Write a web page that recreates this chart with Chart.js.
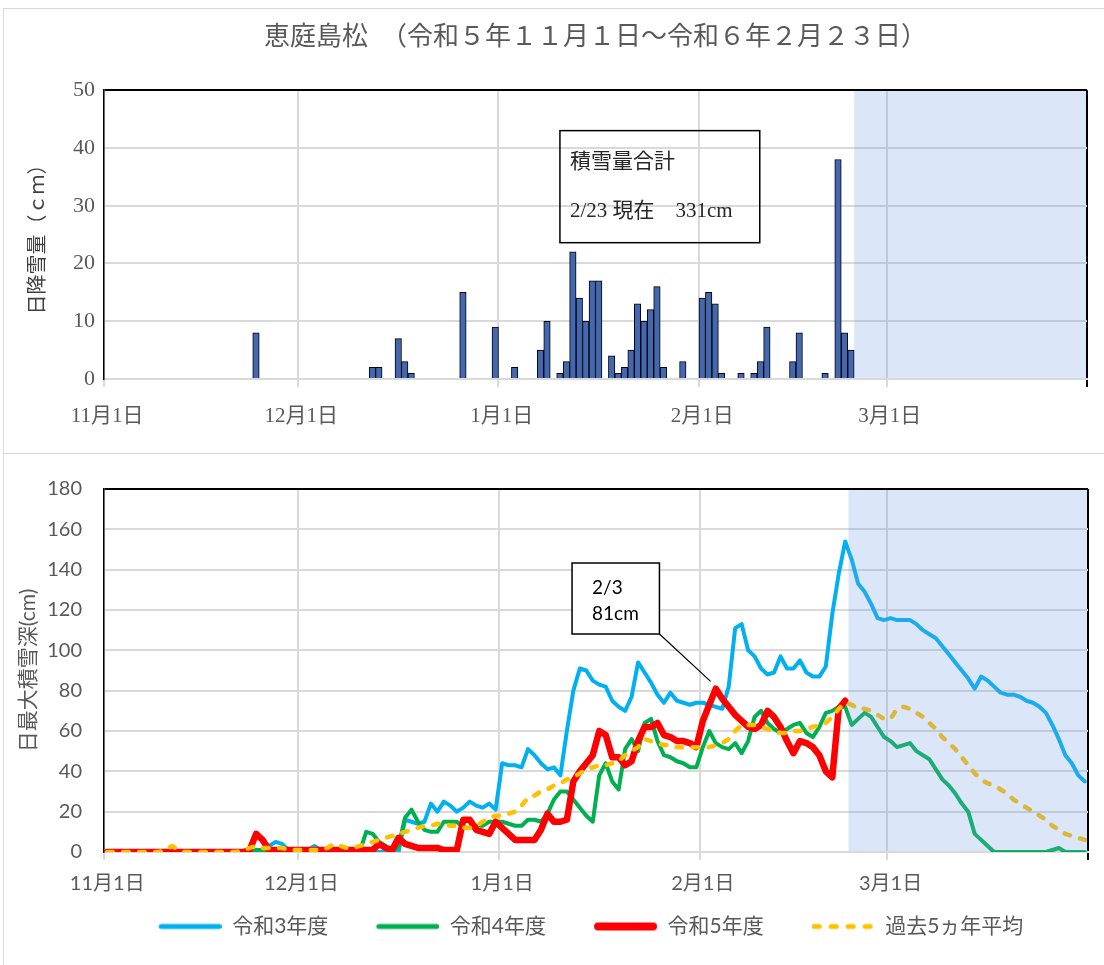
<!DOCTYPE html>
<html><head><meta charset="utf-8">
<script src="https://cdn.jsdelivr.net/npm/chart.js@4.4.1/dist/chart.umd.min.js"></script>
<style>
html,body{margin:0;padding:0;background:#fff;overflow:hidden;width:1104px;height:965px;position:relative;}
#frameTop{position:absolute;left:3px;top:8px;width:1200px;height:444px;border:1.5px solid #d9d9d9;border-right:none;}
#frameBot{position:absolute;left:3px;top:453px;width:1200px;height:600px;border:1.5px solid #d9d9d9;border-right:none;}
#c1{position:absolute;left:0;top:0;}
#c2{position:absolute;left:0;top:455px;}
</style></head>
<body>
<div id="frameTop"></div><div id="frameBot"></div>
<canvas id="c1" width="1104" height="453"></canvas>
<canvas id="c2" width="1104" height="510"></canvas>
<script>
// ---- categories (season days 11/1 .. 3/31) ----
const months = [11, 12, 1, 2, 3];
const monthDays = [30, 31, 31, 29, 31];
const categories = [];
months.forEach((m, i) => { for (let d = 1; d <= monthDays[i]; d++) categories.push(m + '/' + d); });

const tickDates = ['11/1', '12/1', '1/1', '2/1', '3/1'];
const tickLabels = ['11月1日', '12月1日', '1月1日', '2月1日', '3月1日'];

// ---- daily snowfall (cm), top chart ----
const snowDates = ['11/24','12/12','12/13','12/16','12/17','12/18','12/26','12/31',
  '1/3','1/7','1/8','1/10','1/11','1/12','1/13','1/14','1/15','1/16','1/18','1/19','1/20','1/21','1/22','1/23','1/24','1/25','1/26','1/29',
  '2/1','2/2','2/3','2/4','2/7','2/9','2/10','2/11','2/15','2/16','2/20','2/22','2/23','2/24'];
const snowCm = [8,2,2,7,3,1,15,9,
  2,5,10,1,3,22,14,10,17,17,4,1,2,5,13,10,12,16,2,3,
  14,15,13,1,1,1,3,9,3,8,1,38,8,5];

// ---- daily max snow depth (cm), bottom chart ----
const r3Depth = [
 0,0,0,0,0,0,0,0,0,0, 0,0,0,0,0,0,0,0,0,0, 0,0,0,0,0,3,5,4,1,0,
 0,1,3,1,0,0,0,0,0,0, 0,0,0,0,0,0,16,15,14,15, 24,20,25,23,20,22,25,23,22,24, 21,
 44,43,43,42,51,48,44,41,42,38, 60,80,91,90,85,83,82,75,72,70, 77,94,89,84,78,74,79,75,74,73, 74,
 74,73,72,71,82,111,113,100,97,91, 88,89,97,91,91,95,89,87,87,92, 118,138,154,145,133,129,123,116,115,
 116,115,115,115,113,110,108,106,102,98, 94,90,86,81,87,85,82,79,78,78, 77,75,74,72,69,63,56,48,44,38, 35];
const r4Depth = [
 0,0,0,0,0,0,0,0,0,0, 0,0,0,0,0,0,0,0,0,0, 0,0,0,1,1,0,0,0,0,0,
 0,0,0,0,0,0,0,0,0,0, 10,9,5,3,0,3,17,21,15,11, 10,10,15,15,15,12,12,13,13,15, 15,
 15,14,13,13,16,16,15,19,26,30, 30,26,22,18,15,38,44,35,31,51, 56,50,64,66,55,48,47,45,44,42, 42,
 52,60,54,52,51,54,49,55,67,70, 64,61,59,61,63,64,59,57,62,69, 70,72,72,63,66,69,67,62,57,
 55,52,53,54,50,48,46,41,36,33, 29,24,20,9,6,3,0,0,0,0, 0,0,0,0,0,1,2,0,0,0, 0];
const r5Depth = [
 0,0,0,0,0,0,0,0,0,0, 0,0,0,0,0,0,0,0,0,0, 0,0,1,9,6,1,1,1,1,1,
 1,1,1,1,1,1,1,1,1,1, 1,1,4,2,1,7,4,3,2,2, 2,2,1,1,1,16,16,11,10,9, 15,
 12,9,6,6,6,6,11,19,15,15, 16,35,40,44,48,60,58,47,47,43, 45,55,62,62,64,58,57,55,55,54, 52,
 65,73,81,76,72,68,65,62,61,63, 70,67,62,55,49,55,54,52,48,40, 37,71,75];
const avg5Depth = [
 0,0,0,0,0,0,0,0,0,1, 3,1,0,0,0,0,0,0,0,0, 0,1,2,3,2,2,2,2,1,1,
 1,1,1,1,2,4,3,2,2,3, 4,5,6,7,8,9,10,11,12,13, 13,14,14,13,13,12,12,13,15,17, 18,
 18,19,20,23,27,28,30,31,33,34, 36,37,39,41,42,43,43,44,45,48, 50,52,56,55,54,53,53,52,52,52, 52,
 52,52,53,54,56,60,63,63,63,62, 61,60,59,59,60,60,61,62,63,64, 67,71,74,73,71,71,70,68,66,
 66,71,72,71,69,67,64,61,57,54, 51,47,43,39,36,34,33,31,29,26, 24,22,20,18,16,13,11,9,8,7, 6];

const TITLE = '恵庭島松　（令和５年１１月１日～令和６年２月２３日）';
const SERIF = "'Liberation Serif','Noto Sans CJK JP',serif";
const SANS = "Lato,'Noto Sans CJK JP',sans-serif";
const TXT = '#595959';
const GRID = '#d9d9d9';

const snowSeries = categories.map(c => { const k = snowDates.indexOf(c); return k >= 0 ? snowCm[k] : null; });
const tickIdx = tickDates.map(d => categories.indexOf(d));

function xGridColor(ctx) {
  if (ctx.type !== 'tick') return '#000';
  return tickIdx.includes(ctx.index) ? GRID : 'rgba(0,0,0,0)';
}
function xTick(value, index) { const k = tickIdx.indexOf(index); return k >= 0 ? tickLabels[k] : ''; }

const shadePlugin = {
  id: 'shade',
  afterDatasetsDraw(chart, args, o) {
    const {ctx, chartArea: a, scales: {x}} = chart;
    const left = x.getPixelForValue(categories.indexOf(o.from) - 0.5);
    ctx.save();
    ctx.fillStyle = 'rgba(110,160,230,0.25)';
    ctx.fillRect(left, a.top + 1, a.right - 1 - left, a.bottom - a.top - 2);
    ctx.restore();
  }
};
const notePlugin = {
  id: 'note',
  afterDatasetsDraw(chart, args, o) {
    const {ctx, scales: {x, y}} = chart;
    const l = x.getPixelForValue(o.x0), r = x.getPixelForValue(o.x1);
    const t = y.getPixelForValue(o.y0), b = y.getPixelForValue(o.y1);
    ctx.save();
    if (o.fill) { ctx.fillStyle = o.fill; ctx.fillRect(l, t, r - l, b - t); }
    ctx.strokeStyle = '#000'; ctx.lineWidth = 1.5;
    ctx.strokeRect(l, t, r - l, b - t);
    if (o.lead) {
      ctx.lineWidth = 1.2;
      ctx.beginPath(); ctx.moveTo(r, b);
      ctx.lineTo(x.getPixelForValue(o.lead[0]), y.getPixelForValue(o.lead[1])); ctx.stroke();
    }
    ctx.fillStyle = o.color; ctx.font = o.font; ctx.textBaseline = 'middle'; ctx.textAlign = 'left';
    o.lines.forEach((s, i) => ctx.fillText(s, l + o.dx, t + o.dy[i]));
    ctx.restore();
  }
};
// moves the legend row sideways after layout (reference legend is centred over the plot)
const legendShiftPlugin = {
  id: 'legendShift',
  afterLayout(chart, args, o) {
    if (chart.legend) { chart.legend.left += o.dx; chart.legend.right += o.dx; }
  }
};

// legend swatches: transparent lead-in then the line sample
const SW_LEAD = 30, SW_LINE = 63;
function swatch(color, width, dash) {
  const c = document.createElement('canvas');
  c.width = SW_LEAD + SW_LINE; c.height = 14;
  const g = c.getContext('2d');
  g.strokeStyle = color; g.lineWidth = width; g.lineCap = 'round';
  if (dash) g.setLineDash(dash);
  g.beginPath(); g.moveTo(SW_LEAD + width / 2, 7); g.lineTo(SW_LEAD + SW_LINE - width / 2, 7); g.stroke();
  return c;
}

// ---------- top chart: daily snowfall ----------
new Chart(document.getElementById('c1'), {
  type: 'bar',
  data: { labels: categories, datasets: [{
    label: '日降雪量', data: snowSeries, backgroundColor: '#4468B0', borderColor: '#000',
    borderWidth: 1, barPercentage: 1, categoryPercentage: 1 }] },
  options: {
    responsive: false, animation: false, devicePixelRatio: 1,
    layout: { padding: { left: 0, right: 17, top: 0, bottom: 0 } },
    plugins: {
      legend: { display: false }, tooltip: { enabled: false },
      title: { display: true, fullSize: false, text: TITLE, color: TXT,
        font: { family: SERIF, size: 26, weight: 'normal' }, padding: { top: 23, bottom: 36 } },
      shade: { from: '2/25' },
      note: { x0: 70, x1: 100.9, y0: 43, y1: 23.6, lines: ['積雪量合計', '2/23 現在　331cm'],
        dx: 10, dy: [32, 81], font: '21px ' + SERIF, color: '#262626' }
    },
    scales: {
      x: { type: 'category', offset: true,
        grid: { offset: true, color: xGridColor, lineWidth: 2, tickLength: 8 },
        border: { color: GRID, width: 2 },
        ticks: { autoSkip: false, maxRotation: 0, callback: xTick, padding: 17, color: TXT,
          font: { family: SERIF, size: 21 } },
        afterFit: s => { s.height = 74; } },
      y: { min: 0, max: 50,
        ticks: { stepSize: 10, padding: 9, color: TXT, font: { family: SERIF, size: 22 } },
        grid: { color: c => (c.tick && c.tick.value === 50) ? '#000' : GRID, lineWidth: 2, drawTicks: false },
        border: { color: '#000', width: 1.5 },
        title: { display: true, text: '日降雪量（ｃｍ）', color: '#404040',
          font: { family: SERIF, size: 20 }, padding: { top: 27, bottom: 0 } },
        afterFit: s => { s.width = 104; } }
    }
  },
  plugins: [shadePlugin, notePlugin]
});

// ---------- bottom chart: daily max snow depth ----------
const swatches = [
  swatch('#00B0F0', 5, null),
  swatch('#00B050', 5, null),
  swatch('#FF0000', 8, null),
  swatch('#FFC000', 5, [5, 12])
];
new Chart(document.getElementById('c2'), {
  type: 'line',
  data: { labels: categories, datasets: [
    { label: '令和3年度', data: r3Depth, borderColor: '#00B0F0', backgroundColor: '#00B0F0', borderWidth: 4, order: 4 },
    { label: '令和4年度', data: r4Depth, borderColor: '#00B050', backgroundColor: '#00B050', borderWidth: 4, order: 3 },
    { label: '令和5年度', data: r5Depth, borderColor: '#FF0000', backgroundColor: '#FF0000', borderWidth: 6.5, order: 2 },
    { label: '過去5ヵ年平均', data: avg5Depth, borderColor: '#FFC000', backgroundColor: '#FFC000', borderWidth: 4.5,
      borderDash: [5.5, 10.5], order: 1 }
  ] },
  options: {
    responsive: false, animation: false, devicePixelRatio: 1,
    layout: { padding: { left: 0, right: 16, top: 30, bottom: 18 } },
    elements: { point: { radius: 0 }, line: { tension: 0, borderCapStyle: 'round', borderJoinStyle: 'round' } },
    plugins: {
      tooltip: { enabled: false },
      legendShift: { dx: 32 },
      legend: { position: 'bottom',
        labels: { usePointStyle: true, pointStyleWidth: SW_LEAD + SW_LINE, padding: 18, color: TXT,
          font: { family: SANS, size: 21 },
          sort: (a, b) => a.datasetIndex - b.datasetIndex,
          generateLabels(chart) {
            const items = Chart.defaults.plugins.legend.labels.generateLabels(chart);
            items.forEach(it => { it.pointStyle = swatches[it.datasetIndex]; });
            return items;
          } } },
      shade: { from: '2/24' },
      note: { x0: 71.8, x1: 85.3, y0: 143.3, y1: 108.1, fill: '#fff', lead: [93.2, 84.6],
        lines: ['2/3', '81cm'], dx: 20, dy: [25, 51], font: '19px ' + SANS, color: '#000' }
    },
    scales: {
      x: { type: 'category', offset: true,
        grid: { offset: true, color: xGridColor, lineWidth: 2, tickLength: 8 },
        border: { color: GRID, width: 2 },
        ticks: { autoSkip: false, maxRotation: 0, callback: xTick, padding: 12, color: TXT,
          font: { family: SANS, size: 20 } },
        afterFit: s => { s.height = 46; } },
      y: { min: 0, max: 180,
        ticks: { stepSize: 20, padding: 22, color: TXT, font: { family: SANS, size: 20 } },
        grid: { color: c => (c.tick && c.tick.value === 180) ? '#000' : GRID, lineWidth: 2, drawTicks: false },
        border: { color: '#000', width: 1.5 },
        title: { display: true, text: '日最大積雪深(cm)', color: TXT,
          font: { family: SANS, size: 21 }, padding: { top: 16, bottom: 0 } },
        afterFit: s => { s.width = 104; } }
    }
  },
  plugins: [shadePlugin, notePlugin, legendShiftPlugin]
});
</script>
</body></html>
